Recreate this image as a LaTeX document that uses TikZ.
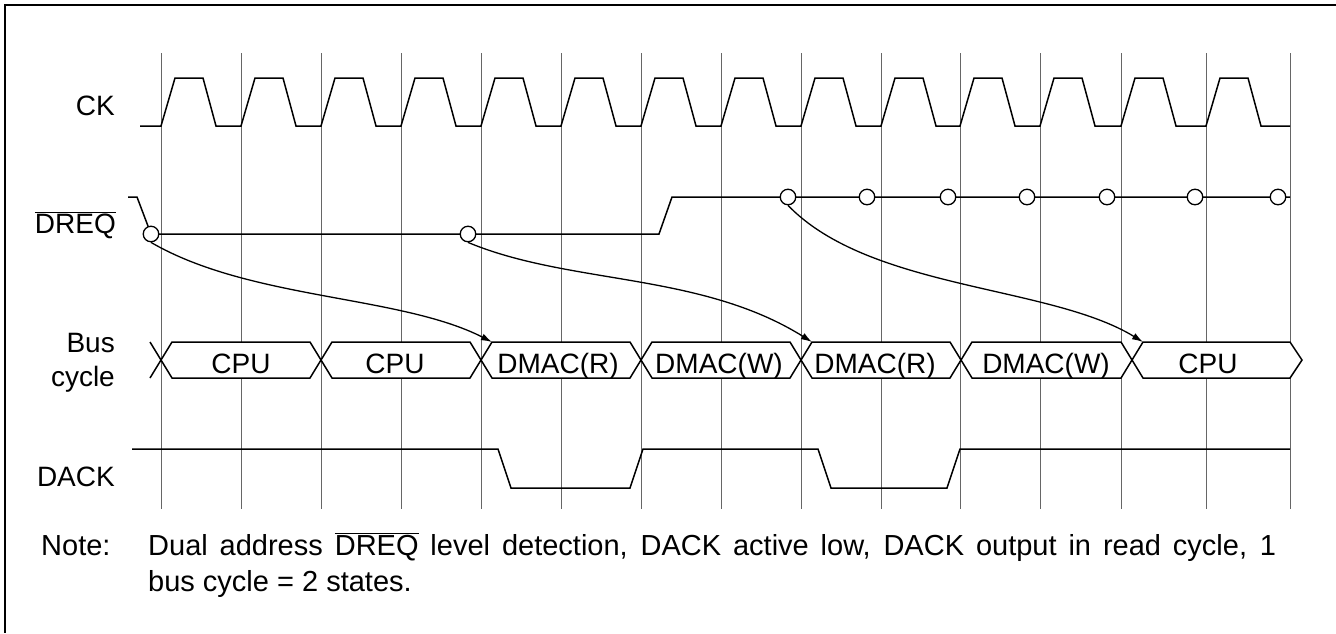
\documentclass[tikz,border=0pt]{standalone}
\usepackage{fontspec}
\setmainfont{Liberation Sans}
\usetikzlibrary{arrows.meta}
\begin{document}
\begin{tikzpicture}[x=1pt,y=-1pt,
  wave/.style={line width=1.5pt, line join=miter},
  gridline/.style={line width=1pt, black!60},
  lbl/.style={font=\fontsize{28}{34}\selectfont, inner sep=0pt},
  notetext/.style={font=\fontsize{29}{35}\selectfont, inner sep=0pt},
  smp/.style={circle, draw, fill=white, line width=1.3pt, minimum size=15.5pt, inner sep=0pt},
  cause/.style={line width=1.3pt, -{Latex[length=11pt,width=7pt]}},
  hexbox/.style={draw, fill=white, line width=1.5pt, line join=miter}]

\useasboundingbox (0,0) rectangle (1336,633);
\draw[line width=1.5pt] (1336,5) -- (5,5) -- (5,633);

% grid
\foreach \x in {161,241,321,401,481,561,641,721,801,881,960,1040,1121,1206,1290}
  \draw[gridline] (\x,53) -- (\x,509);

% CK
\draw[wave] (140,126) -- (161,126)
  \foreach \a/\b in {161/241,241/321,321/401,401/481,481/561,561/641,641/721,721/801,801/881,881/960,960/1040,1040/1121,1121/1206,1206/1290}
  { -- (\a+14,78) -- (\a+42,78) -- (\a+55,126) -- (\b,126) };

% DREQ
\draw[wave] (128,197) -- (137,197) -- (151,234) -- (659,234) -- (672,197) -- (1290,197);
\node[smp] (s1) at (151,234) {};
\node[smp] (s2) at (468,234) {};
\node[smp] (s3) at (788,197) {};
\node[smp] (s4) at (867,197) {};
\node[smp] (s5) at (948,197) {};
\node[smp] (s6) at (1027,197) {};
\node[smp] (s7) at (1107,197) {};
\node[smp] (s8) at (1195,197) {};
\node[smp] (s9) at (1278,197) {};

% Bus cycle
\draw[wave] (150,342) -- (161,360) -- (150,378);
\draw[hexbox] (161,360) -- (172,342) -- (310,342) -- (321,360) -- (310,378) -- (172,378) -- cycle;
\draw[hexbox] (321,360) -- (332,342) -- (470,342) -- (481,360) -- (470,378) -- (332,378) -- cycle;
\draw[hexbox] (481,360) -- (492,342) -- (630,342) -- (641,360) -- (630,378) -- (492,378) -- cycle;
\draw[hexbox] (641,360) -- (652,342) -- (790,342) -- (801,360) -- (790,378) -- (652,378) -- cycle;
\draw[hexbox] (801,360) -- (812,342) -- (950,342) -- (961,360) -- (950,378) -- (812,378) -- cycle;
\draw[hexbox] (961,360) -- (972,342) -- (1121,342) -- (1132,360) -- (1121,378) -- (972,378) -- cycle;
\draw[hexbox] (1132,360) -- (1143,342) -- (1290,342) -- (1302,360) -- (1290,378) -- (1143,378) -- cycle;
\coordinate (t1) at (492,342);
\coordinate (t2) at (812,342);
\coordinate (t3) at (1143,342);
\node[lbl, anchor=base] (c1) at (241,373) {CPU};
\node[lbl, anchor=base] (c2) at (395,373) {CPU};
\node[lbl, anchor=base] (c3) at (558,373) {DMAC(R)};
\node[lbl, anchor=base] (c4) at (719,373) {DMAC(W)};
\node[lbl, anchor=base] (c5) at (875,373) {DMAC(R)};
\node[lbl, anchor=base] (c6) at (1046,373) {DMAC(W)};
\node[lbl, anchor=base] (c7) at (1208,373) {CPU};

% arrows
\draw[cause] (s1.south) .. controls (250,300) and (400,295) .. (t1);
\draw[cause] (s2.south) .. controls (570,285) and (700,272) .. (t2);
\draw[cause] (s3.south) .. controls (870,290) and (1050,285) .. (t3);

% DACK
\draw[wave] (132,449) -- (498,449) -- (511,488) -- (630,488) -- (643,449) -- (818,449) -- (831,488) -- (947,488) -- (960,449) -- (1290,449);

% labels
\node[lbl, anchor=base east] (lck) at (115,115) {CK};
\node[lbl, anchor=base east] (ldreq) at (116,233) {$\overline{\mbox{DREQ}}$};
\node[lbl, anchor=base east] (lbus) at (115,352) {Bus};
\node[lbl, anchor=base east] (lcyc) at (115,386) {cycle};
\node[lbl, anchor=base east] (ldack) at (115,486) {DACK};

% note
\node[notetext, anchor=base west] (nlab) at (41,555) {Note:};
\node[notetext, anchor=base west] (n1) at (148,555) {\makebox[1128pt][s]{Dual address $\overline{\mbox{DREQ}}$ level detection, DACK active low, DACK output in read cycle, 1}};
\node[notetext, anchor=base west] (n2) at (148,591) {bus cycle = 2 states.};
\end{tikzpicture}
\end{document}
